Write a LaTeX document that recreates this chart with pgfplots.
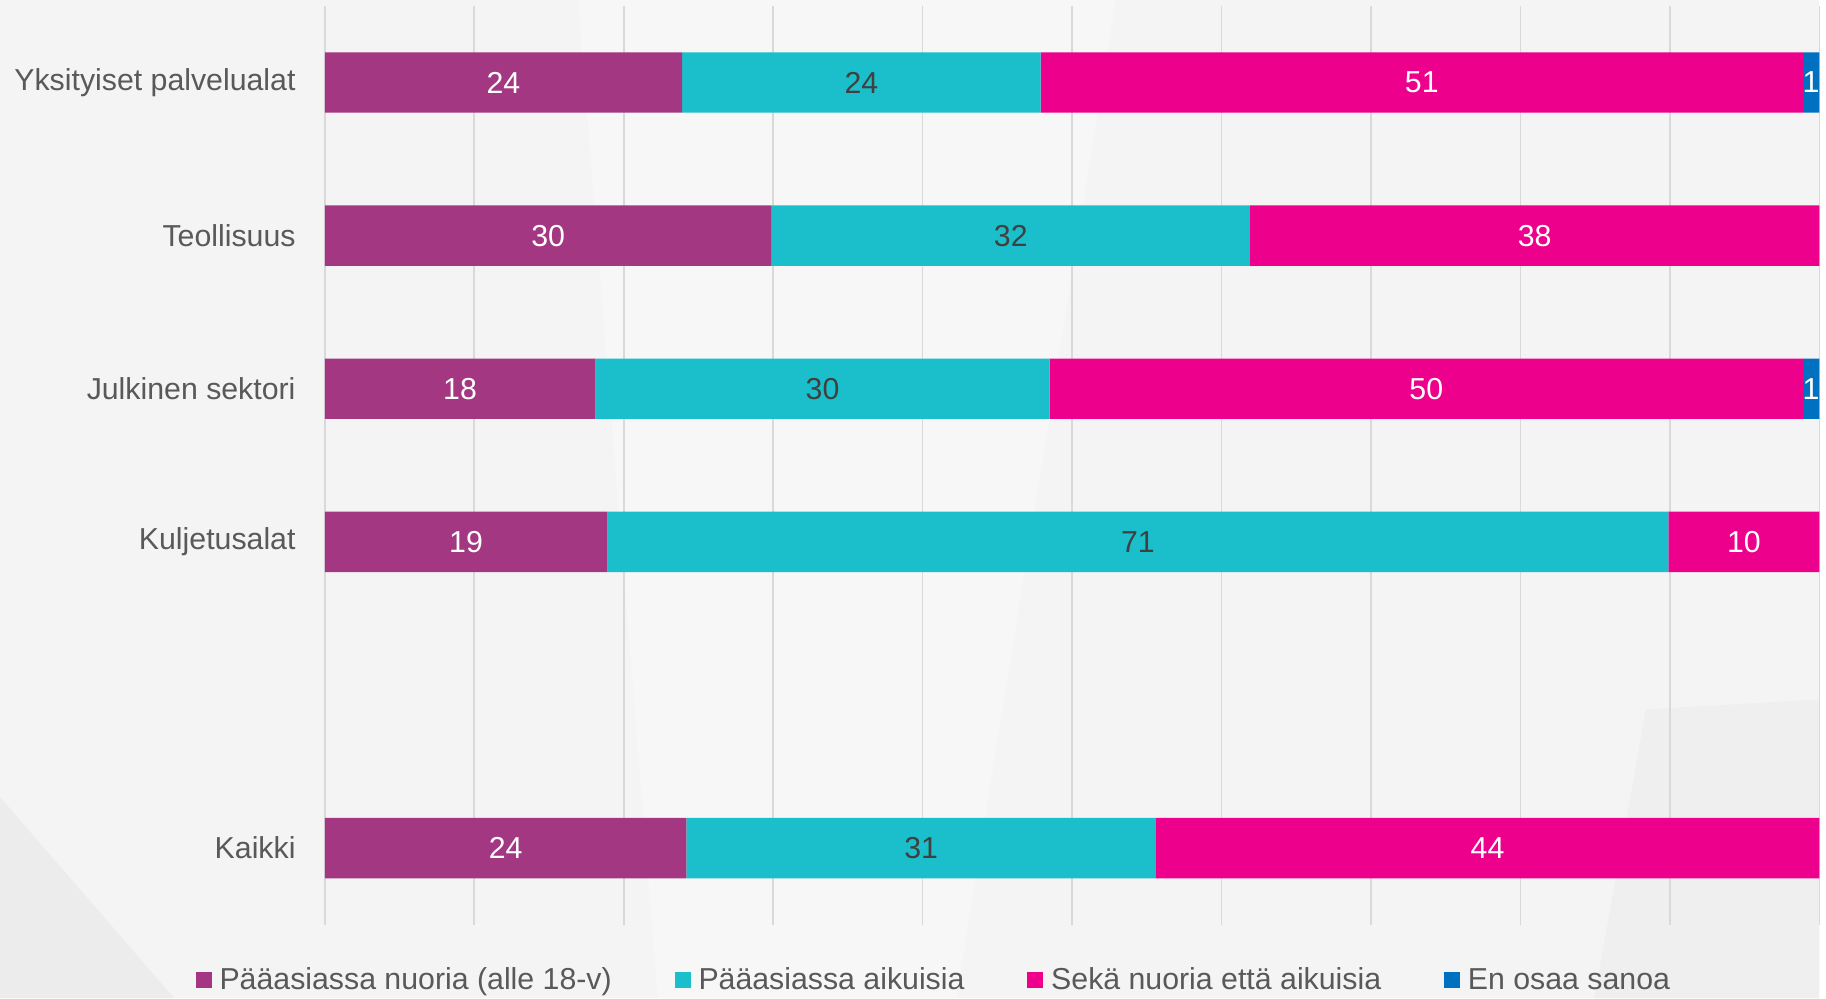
\documentclass[border=0pt]{standalone}
\usepackage{fontspec}
\setmainfont{Liberation Sans}
\usepackage{pgfplots}
\usepackage{pgfplotstable}
\pgfplotsset{compat=1.18}

\definecolor{bgcol}{HTML}{F4F4F4}
\definecolor{bgdark}{HTML}{ECECEC}
\definecolor{bglight}{HTML}{F7F7F7}
\definecolor{gridcol}{HTML}{D9D9D9}
\definecolor{txtcol}{HTML}{595959}
\definecolor{numcol}{HTML}{404040}
\definecolor{nuoria}{HTML}{A43782}
\definecolor{aikuisia}{HTML}{1BBFCB}
\definecolor{molemmat}{HTML}{EC008C}
\definecolor{eos}{HTML}{0070C0}

\newcommand{\chartfont}{\fontsize{15.2}{18}\selectfont}

% shares (%) per sector; pos = row on the y axis (4 is an empty gap)
\pgfplotstableread{
pos a    b    c    d
0   23.9 24.0 51.0 1.1
1   29.9 32.0 38.1 0
2   18.1 30.4 50.4 1.1
3   18.9 71.0 10.1 0
5   24.2 31.4 44.4 0
}\shares

\pgfplotsset{
  seg/.style={
    fill=#1, draw=none,
    legend image code/.code={\fill[#1] (0pt,-4pt) rectangle (8pt,4pt);},
  },
  lbl/.style={
    draw=none, mark=none,
    every node near coord/.append style={text=#1},
  },
  frame/.style={
    at={(163pt,37pt)}, anchor=south west,
    width=750pt, height=461pt, scale only axis,
    xmin=0, xmax=100,
    ymin=-0.5, ymax=5.5, y dir=reverse,
  },
}

\begin{document}
\begin{tikzpicture}
% faint low-poly backdrop
\fill[bgcol] (0,0) rectangle (913pt,501pt);
\fill[bglight] (290pt,501pt) -- (560pt,501pt) -- (480pt,0pt) -- (330pt,0pt) -- cycle;
\fill[bgdark] (0pt,101pt) -- (87.5pt,0pt) -- (0pt,0pt) -- cycle;
\fill[bgdark!60!bgcol] (826pt,145pt) -- (913pt,150pt) -- (913pt,0pt) -- (800pt,0pt) -- cycle;
\begin{axis}[
  frame,
  xbar stacked, bar width=30.3pt,
  xtick={0,10,...,100}, xticklabels={},
  ytick={0,1,2,3,5},
  yticklabels={Yksityiset palvelualat, Teollisuus, Julkinen sektori, Kuljetusalat, Kaikki},
  xmajorgrids, grid style={gridcol, line width=0.8pt},
  axis line style={draw=none},
  major tick length=0pt,
  yticklabel style={font=\chartfont, text=txtcol, anchor=east, inner sep=0pt, xshift=-14.5pt},
  legend columns=4,
  legend style={at={(-0.0867,-0.0607)}, anchor=west, draw=none, fill=none,
    inner sep=0pt, font=\chartfont, text=txtcol, nodes={inner sep=0pt},
    /tikz/every odd column/.append style={column sep=4pt},
    /tikz/every even column/.append style={column sep=31.5pt}},
]
\addplot[seg=nuoria]   table[x=a, y=pos] {\shares};
\addplot[seg=aikuisia] table[x=b, y=pos] {\shares};
\addplot[seg=molemmat] table[x=c, y=pos] {\shares};
\addplot[seg=eos]      table[x=d, y=pos] {\shares};
\legend{Pääasiassa nuoria (alle 18-v), Pääasiassa aikuisia, Sekä nuoria että aikuisia, En osaa sanoa}
\end{axis}

% value labels in the middle of each segment
\begin{axis}[
  frame, hide axis, clip=false,
  /pgf/number format/assume math mode=true,
  nodes near coords={\pgfmathfloatifflags{\pgfplotspointmeta}{0}{}{\pgfmathprintnumber[fixed,precision=0]{\pgfplotspointmeta}}},
  every node near coord/.append style={font=\chartfont, anchor=center, inner sep=0pt},
]
\addplot[lbl=white, point meta=\thisrow{a}]
  table[x expr={\thisrow{a}/2}, y=pos] {\shares};
\addplot[lbl=numcol, point meta=\thisrow{b}]
  table[x expr={\thisrow{a}+\thisrow{b}/2}, y=pos] {\shares};
\addplot[lbl=white, point meta=\thisrow{c}]
  table[x expr={\thisrow{a}+\thisrow{b}+\thisrow{c}/2}, y=pos] {\shares};
\addplot[lbl=white, point meta=\thisrow{d}]
  table[x expr={\thisrow{a}+\thisrow{b}+\thisrow{c}+\thisrow{d}/2}, y=pos] {\shares};
\end{axis}
\end{tikzpicture}
\end{document}
